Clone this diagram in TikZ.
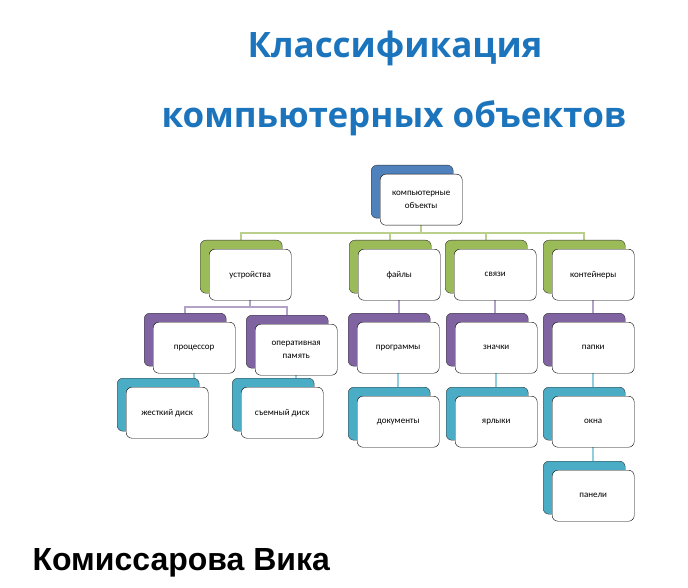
\documentclass[tikz,border=0pt]{standalone}
\usepackage{fontspec}
\setmainfont{Carlito}
\newfontfamily\titlefont{Open Sans}
\newfontfamily\namefont{Liberation Sans}
\usetikzlibrary{positioning, backgrounds}
\definecolor{rootc}{HTML}{4F81BD}
\definecolor{greenc}{HTML}{9BBB59}
\definecolor{purplec}{HTML}{8064A2}
\definecolor{tealc}{HTML}{4BACC6}
\definecolor{titlec}{HTML}{1C75BC}
\tikzset{
    backbox/.style={draw=black!80, rounded corners=2mm, minimum width=82pt, minimum height=53pt, inner sep=0pt},
    frontbox/.style={draw=black, fill=white, rounded corners=2mm, minimum width=82pt, minimum height=51pt, align=center, font=\fontsize{9}{13}\selectfont, inner sep=1pt},
    link/.style={line width=2pt}
}
% back box, front box on top of it
\newcommand{\orgbox}[5]{%
    \node[backbox, fill=#4, anchor=north west] (#1-b) at (#2,#3) {};
    \node[frontbox, anchor=north west] (#1) at ([xshift=9pt,yshift=-9pt]#1-b.north west) {#5};
}
\begin{document}
\begin{tikzpicture}[x=1pt,y=-1pt]
    \useasboundingbox (0,0) rectangle (688,588);

    \node[font=\titlefont\bfseries\fontsize{35}{40}\selectfont, text=titlec] (title1) at (395,48) {Классификация};
    \node[font=\titlefont\bfseries\fontsize{35}{40}\selectfont, text=titlec] (title2) at (394,118) {компьютерных объектов};

    \orgbox{root}{371}{165}{rootc}{компьютерные\\объекты}
    \orgbox{dev}{200}{240}{greenc}{устройства}
    \orgbox{files}{349}{240}{greenc}{файлы}
    \orgbox{links}{445}{240}{greenc}{связи}
    \orgbox{cont}{543}{240}{greenc}{контейнеры}
    \orgbox{cpu}{144}{313}{purplec}{процессор}
    \orgbox{ram}{246}{315}{purplec}{оперативная\\память}
    \orgbox{hdd}{117}{378}{tealc}{жесткий диск}
    \orgbox{usb}{232}{378}{tealc}{съемный диск}
    \orgbox{prog}{348}{313}{purplec}{программы}
    \orgbox{docs}{348}{387}{tealc}{документы}
    \orgbox{icons}{446}{313}{purplec}{значки}
    \orgbox{lnks}{446}{387}{tealc}{ярлыки}
    \orgbox{dirs}{543}{313}{purplec}{папки}
    \orgbox{wins}{543}{387}{tealc}{окна}
    \orgbox{pans}{543}{461}{tealc}{панели}

    \coordinate (bus1) at (0,233);
    \coordinate (bus2) at (0,307);

    \begin{scope}[on background layer]
        \foreach \c in {dev, files, links, cont}
            \draw[link, greenc!70] (root.south) -- (root.south |- bus1) -| (\c-b.north);
        \foreach \c in {cpu, ram}
            \draw[link, purplec!60] (dev.south) -- (dev.south |- bus2) -| (\c-b.north);
        \draw[link, purplec!60] (files.south) -- (files.south |- prog-b.north);
        \draw[link, purplec!60] (links.south) -- (links.south |- icons-b.north);
        \draw[link, purplec!60] (cont.south) -- (cont.south |- dirs-b.north);
        \draw[link, tealc!60] (cpu.south) -- (cpu.south |- hdd-b.north);
        \draw[link, tealc!60] (ram.south) -- (ram.south |- usb-b.north);
        \draw[link, tealc!60] (prog.south) -- (prog.south |- docs-b.north);
        \draw[link, tealc!60] (icons.south) -- (icons.south |- lnks-b.north);
        \draw[link, tealc!60] (dirs.south) -- (dirs.south |- wins-b.north);
        \draw[link, tealc!60] (wins.south) -- (wins.south |- pans-b.north);
    \end{scope}

    \node[font=\namefont\bfseries\fontsize{32}{36}\selectfont, anchor=west] (author) at (29,563) {Комиссарова Вика};
\end{tikzpicture}
\end{document}
